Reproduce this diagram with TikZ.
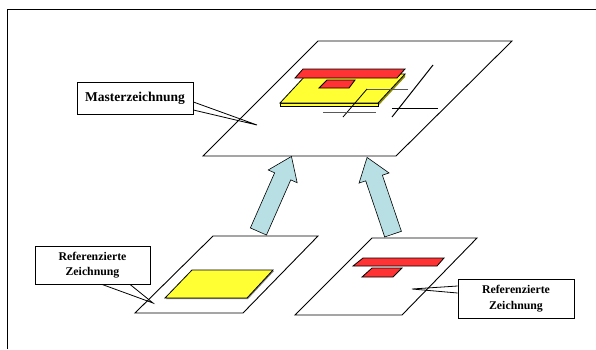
\documentclass[tikz,border=0pt]{standalone}
\usepackage{fontspec}
\setmainfont{Liberation Serif}
\usetikzlibrary{shapes.arrows}

\definecolor{partred}{HTML}{FF3333}
\definecolor{partyellow}{HTML}{FFFF33}
\definecolor{partolive}{HTML}{8C8C00}
\definecolor{flowblue}{HTML}{B8E0E4}

\begin{document}
\begin{tikzpicture}[x=1pt,y=-1pt,
	sheet/.style={draw, fill=white, line width=0.9pt},
	redpart/.style={draw, fill=partred, line width=0.8pt},
	yellowpart/.style={draw, fill=partyellow, line width=0.8pt},
	callout/.style={draw, fill=white, line width=0.8pt, font=\bfseries, align=center, inner sep=0pt},
	flow/.style={draw, fill=flowblue, single arrow, single arrow head extend=7pt, single arrow tip angle=72, inner xsep=0pt, inner ysep=8.5pt, line width=0.6pt}]

	\useasboundingbox (0,0) rectangle (596,349);

	% Frame
	\draw[line width=0.9pt] (7,349) -- (7,9) -- (596,9);

	% Master sheet
	\draw[sheet] (318,41) -- (512,41) -- (396,156) -- (203,156) -- cycle;

	% Yellow slab, side faces first
	\fill[partolive] (405,74) -- (378,103) -- (378,106) -- (405,77) -- cycle;
	\draw[yellowpart] (280,103) -- (378,103) -- (378,106) -- (280,106) -- cycle;
	\draw[yellowpart] (307,74) -- (405,74) -- (378,103) -- (280,103) -- cycle;

	% Red T on top
	\draw[redpart] (303,69) -- (405,69) -- (397,78) -- (295,78) -- cycle;
	\draw[redpart] (327,80) -- (355,80) -- (349,88) -- (319,88) -- cycle;

	% Wires
	\draw[gray!70!black, line width=0.7pt] (408,89) -- (367,89);
	\draw[line width=0.8pt] (367,89) -- (343,117);
	\draw[gray!70!black, line width=0.7pt] (323,112) -- (376,112);
	\draw[line width=1pt] (433,65) -- (392,117);
	\draw[line width=1pt] (392,108) -- (438,108);

	% Referenced sheet left
	\draw[sheet] (213,236) -- (318,236) -- (243,313) -- (135,313) -- cycle;
	\fill[gray] (193,271) -- (274,271) -- (248,299) -- (166,299) -- cycle;
	\draw[yellowpart] (192,270) -- (273,270) -- (247,298) -- (165,298) -- cycle;

	% Referenced sheet right
	\draw[sheet] (372,238) -- (477,238) -- (402,315) -- (295,315) -- cycle;
	\draw[redpart] (363,258) -- (444,258) -- (437,266) -- (353,266) -- cycle;
	\draw[redpart] (372,268) -- (402,268) -- (393,277) -- (362,277) -- cycle;

	% Arrows into master
	\node[flow, minimum height=82pt, rotate=66.25] (upleft) at (272.5,199.5) {};
	\node[flow, minimum height=81pt, rotate=108.7] (upright) at (382,201.5) {};

	% Labels
	\coordinate (mastertip) at (257,125);
	\coordinate (lefttip) at (153,303);
	\coordinate (righttip) at (412,289);

	\node[callout, minimum width=116pt, minimum height=32pt, font=\bfseries\fontsize{13.5}{15}\selectfont] (master) at (135,98) {Masterzeichnung};
	\node[callout, minimum width=115pt, minimum height=38pt, font=\bfseries\fontsize{11.8}{15.7}\selectfont] (refleft) at (92.5,265) {Referenzierte\\Zeichnung};
	\node[callout, minimum width=116pt, minimum height=39pt, font=\bfseries\fontsize{11.8}{15.7}\selectfont] (refright) at (516,298.5) {Referenzierte\\Zeichnung};

	\draw[line width=0.8pt] ([yshift=-4pt]master.east) -- (mastertip) -- ([yshift=-12pt]master.east);
	\draw[line width=0.8pt] ([xshift=9.5pt]refleft.south) -- (lefttip) -- ([xshift=37.5pt]refleft.south);
	\draw[line width=0.8pt] ([yshift=12.5pt]refright.west) -- (righttip) -- ([yshift=5.5pt]refright.west);

\end{tikzpicture}
\end{document}
